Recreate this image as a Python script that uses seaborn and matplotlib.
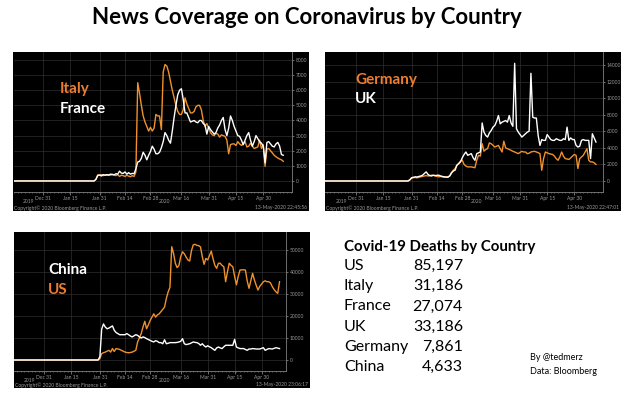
import numpy as np
import pandas as pd
import matplotlib
matplotlib.use("Agg")
import matplotlib.pyplot as plt
import matplotlib.dates as mdates
import matplotlib.transforms as mtransforms
from matplotlib.patches import Rectangle
import seaborn as sns

plt.rcParams['font.family'] = ['Lato', 'DejaVu Sans']

W, H = 630, 396
ORANGE_LINE = '#F0912B'
ORANGE_TXT = '#ED7D31'
GREY = '#9a9a9a'

# ---- daily news story counts ----
zero_from = "2019-12-14"   # flat zero line before the first story

italy_start = "2020-01-24"
italy = [0, 0, 0, 0, 0, 100, 400, 380, 420, 350,
         400, 380, 420, 380, 450, 400, 350, 420, 300, 380,
         350, 300, 380, 320, 280, 350, 300, 600, 6500, 5800,
         5000, 4300, 3900, 3600, 3300, 3550, 3300, 3500, 4400, 4300,
         4300, 3400, 7200, 7700, 7600, 7200, 6600, 6000, 5500, 5000,
         4600, 4400, 4400, 4700, 5500, 5100, 4800, 4500, 4500, 4600,
         4900, 5000, 5000, 4700, 4000, 3600, 3800, 3500, 3200, 3050,
         3000, 3150, 3100, 2900, 3050, 3000, 2950, 2700, 1800, 2400,
         2450, 2450, 2350, 2600, 2450, 2350, 2450, 2600, 2250, 2300,
         2500, 2300, 2150, 2200, 2250, 2700, 2150, 2400, 970, 2100,
         2150, 2000, 1850, 1700, 1600, 1520, 1450, 1400, 1300]
france_start = "2020-01-24"
france = [0, 0, 0, 0, 0, 100, 350, 400, 330, 420,
          380, 420, 380, 450, 420, 400, 480, 450, 650, 520,
          500, 600, 450, 550, 450, 500, 480, 800, 1250, 1300,
          1500, 1900, 1700, 1400, 1700, 1950, 2300, 2100, 1800, 1800,
          1900, 2200, 2600, 3200, 3000, 2700, 2500, 3300, 4200, 5000,
          5700, 6000, 6100, 5400, 4500, 4500, 4200, 3900, 3950, 4000,
          3900, 3850, 4000, 4000, 3800, 3700, 3100, 3600, 3400, 3250,
          3100, 3200, 3500, 3700, 4000, 4200, 3400, 3000, 3500, 4300,
          4000, 3600, 3300, 3000, 2950, 2700, 2400, 2700, 3000, 3200,
          2700, 2300, 2600, 3000, 2800, 2600, 2500, 2300, 1200, 2550,
          2600, 2450, 2300, 2250, 2450, 2550, 2300, 1750, 1700]

germany_start = "2020-01-25"
germany = [0, 0, 0, 0, 0, 150, 350, 400, 420, 380,
           450, 500, 550, 600, 650, 600, 650, 700, 680, 600,
           550, 500, 550, 500, 450, 480, 520, 600, 900, 1300,
           1500, 1900, 2100, 2400, 2500, 2000, 1800, 1700, 1700, 1700,
           1650, 1600, 2500, 3100, 3000, 4500, 3600, 3800, 3900, 4600,
           4500, 4300, 4100, 4200, 4300, 3900, 3500, 4800, 4000, 3900,
           3800, 3700, 3580, 3500, 3400, 3300, 3450, 3580, 3500, 3500,
           3300, 3350, 3500, 3550, 3580, 3500, 3420, 3300, 1290, 2700,
           3500, 3400, 3300, 3250, 3200, 3000, 2700, 2500, 2900, 3500,
           3000, 2700, 2650, 2600, 2780, 3000, 3200, 3100, 1500, 2700,
           2900, 3100, 3500, 3900, 2500, 2300, 2300, 2200, 2000]
uk_start = "2020-01-25"
uk = [0, 0, 0, 0, 0, 150, 400, 450, 500, 480,
      550, 600, 700, 900, 1100, 800, 650, 600, 700, 650,
      680, 700, 600, 550, 500, 480, 440, 600, 1000, 1200,
      1300, 1900, 2100, 2300, 2800, 3200, 3500, 3100, 3200, 3300,
      2800, 2500, 3300, 3400, 3500, 7000, 5900, 5500, 5300, 5800,
      6100, 6500, 6700, 7200, 7900, 6900, 7100, 7200, 7300, 7100,
      7900, 7000, 6600, 14200, 6300, 5900, 5600, 5300, 5500, 5700,
      5900, 6000, 13000, 7700, 7600, 7600, 5500, 4300, 5000, 4900,
      4900, 5600, 5300, 5000, 4900, 4900, 5100, 5000, 4900, 4900,
      5100, 5000, 6500, 4900, 5200, 5000, 5000, 4300, 4100, 4200,
      4900, 5000, 4900, 4900, 4900, 2700, 5700, 5200, 4700]

china_start = "2020-01-25"
china = [0, 0, 0, 0, 0, 0, 1500, 14000, 16400, 15000,
         14200, 14500, 15000, 15500, 13500, 12500, 12000, 11500, 11500, 11500,
         11500, 12000, 11500, 10900, 10500, 11000, 11500, 11200, 10500, 10000,
         10500, 10200, 9700, 9300, 8900, 8500, 8200, 8800, 8500, 7900,
         7900, 7400, 9200, 7400, 7600, 7900, 7900, 7900, 7900, 8000,
         8200, 8500, 9700, 7400, 7000, 7200, 7400, 7800, 8200, 8000,
         7900, 7500, 6700, 7400, 6500, 5900, 6500, 6000, 5600, 5000,
         4400, 5500, 5900, 5500, 5200, 6000, 6700, 6700, 6700, 6700,
         6700, 9400, 5900, 5500, 5200, 5200, 5200, 4800, 4400, 5000,
         5000, 5200, 5100, 5000, 5000, 5000, 5300, 5600, 4400, 4800,
         5200, 5100, 5000, 5300, 5600, 5400, 5200]
us_start = "2020-01-25"
us = [0, 0, 0, 0, 0, 0, 600, 2900, 3300, 3600,
      4000, 4400, 3600, 5200, 3900, 5200, 5000, 4800, 4400, 4000,
      3600, 3400, 3300, 3400, 3600, 4000, 4400, 8200, 10000, 12000,
      15000, 17600, 14200, 16000, 18000, 19500, 21000, 19500, 20500, 21000,
      22000, 23000, 24100, 28000, 31000, 33000, 51500, 48500, 44000, 42000,
      43000, 47000, 49200, 48300, 46800, 45500, 45000, 49800, 52400, 52600,
      52100, 52000, 51400, 47000, 43500, 46200, 45500, 47500, 49500, 46000,
      43000, 41700, 44000, 44000, 43000, 42400, 35600, 40000, 44000, 43000,
      42400, 38000, 34200, 38000, 40900, 41000, 41000, 40900, 36000, 32600,
      36000, 39400, 36400, 34000, 31800, 33500, 34500, 35600, 36000, 35600,
      35600, 35000, 33300, 32000, 31000, 30300, 35600]

tick_days = ["2019-12-31", "2020-01-15", "2020-01-31", "2020-02-14", "2020-02-28",
             "2020-03-16", "2020-03-31", "2020-04-15", "2020-04-30"]
tick_labels = ["Dec 31", "Jan 15", "Jan 31", "Feb 14", "Feb 28",
               "Mar 16", "Mar 31", "Apr 15", "Apr 30"]

death_countries = ["US", "Italy", "France", "UK", "Germany", "China"]
death_counts = [85197, 31186, 27074, 33186, 7861, 4633]


def fbox(l, t, r, b):
    # pixel box (top-left origin) -> figure fraction rect
    return [l / W, 1 - b / H, (r - l) / W, (b - t) / H]


def make_df(start, vals):
    dates = [pd.Timestamp(zero_from)] + list(pd.date_range(start, periods=len(vals), freq="D"))
    return pd.DataFrame({"date": dates, "n": [0] + list(vals)})


base = pd.Timestamp("2019-12-31")
panels = [
    dict(black=(13, 52, 309, 211), box=(14, 52, 292, 192), days=(-16, 136.8),
         ylim=(-730, 8530), yticks=np.arange(0, 8001, 1000),
         lines=[(italy_start, italy, ORANGE_LINE), (france_start, france, "white")],
         names=[("Italy", ORANGE_TXT, 89), ("France", "white", 109)], name_x=60,
         stamp="13-May-2020 22:45:56"),
    dict(black=(325, 52, 621, 211), box=(325, 52, 603, 192), days=(-17, 136.9),
         ylim=(-1330, 15570), yticks=np.arange(0, 14001, 2000),
         lines=[(germany_start, germany, ORANGE_LINE), (uk_start, uk, "white")],
         names=[("Germany", ORANGE_TXT, 80), ("UK", "white", 99)], name_x=355,
         stamp="13-May-2020 22:47:01"),
    dict(black=(14, 232, 310, 388), box=(14, 232, 286, 371), days=(-16.8, 134.6),
         ylim=(-5000, 58200), yticks=np.arange(0, 50001, 10000),
         lines=[(us_start, us, ORANGE_LINE), (china_start, china, "white")],
         names=[("China", "white", 270), ("US", ORANGE_TXT, 290)], name_x=48,
         stamp="13-May-2020 23:06:17"),
]

fig = plt.figure(figsize=(W / 100, H / 100), dpi=100)
fig.patch.set_facecolor("white")

fig.text(307 / W, 1 - 18 / H, "News Coverage on Coronavirus by Country",
         ha="center", va="center", fontsize=16, fontweight="bold", color="black")

for p in panels:
    l, t, r, b = p["black"]
    fig.add_artist(Rectangle((l / W, 1 - b / H), (r - l) / W, (b - t) / H,
                             transform=fig.transFigure, facecolor="black",
                             edgecolor="none", zorder=-1))
    ax = fig.add_axes(fbox(*p["box"]))
    ax.set_facecolor("black")

    for start, vals, col in p["lines"]:
        sns.lineplot(data=make_df(start, vals), x="date", y="n", ax=ax,
                     color=col, lw=1.0)

    ax.set_xlim(base + pd.Timedelta(days=p["days"][0]), base + pd.Timedelta(days=p["days"][1]))
    ax.set_ylim(*p["ylim"])
    ax.set_xlabel("")
    ax.set_ylabel("")

    ax.set_xticks(pd.to_datetime(tick_days))
    ax.set_xticklabels(tick_labels)
    ax.xaxis.set_minor_locator(mdates.DayLocator(interval=2))
    ax.set_yticks(p["yticks"])
    ax.set_yticklabels([str(v) for v in p["yticks"]])
    ax.yaxis.tick_right()

    ax.tick_params(axis="x", which="major", length=2, width=0.5, color=GREY,
                   labelsize=3.6, labelcolor=GREY, pad=0.6)
    ax.tick_params(axis="x", which="minor", length=1, width=0.4, color=GREY)
    ax.tick_params(axis="y", length=1.5, width=0.5, color=GREY,
                   labelsize=3.6, labelcolor=GREY, pad=1)
    ax.grid(True, which="major", color="#2e2e2e", lw=0.5)
    ax.set_axisbelow(True)
    for side in ["top", "left"]:
        ax.spines[side].set_visible(False)
    for side in ["right", "bottom"]:
        ax.spines[side].set_color("#808080")
        ax.spines[side].set_linewidth(0.6)

    # year row under the date labels
    ab = p["box"][3]
    tr = mtransforms.blended_transform_factory(ax.transData, fig.transFigure)
    ax.text(mdates.date2num(pd.Timestamp("2019-12-23")), 1 - (ab + 10) / H, "2019",
            transform=tr, ha="center", va="center", fontsize=3.6, color=GREY)
    ax.text(mdates.date2num(pd.Timestamp("2020-03-07")), 1 - (ab + 10) / H, "2020",
            transform=tr, ha="center", va="center", fontsize=3.6, color=GREY)

    fig.text((l + 1) / W, 1 - (b - 3.2) / H, "Copyright\u00a9 2020 Bloomberg Finance L.P.",
             ha="left", va="center", fontsize=3.6, color=GREY)
    fig.text((r - 2) / W, 1 - (b - 3.2) / H, p["stamp"],
             ha="right", va="center", fontsize=3.6, color=GREY)

    for name, col, yc in p["names"]:
        fig.text(p["name_x"] / W, 1 - yc / H, name, ha="left", va="center",
                 fontsize=11, fontweight="bold", color=col)

# deaths table on the right
fig.text(344 / W, 1 - 247 / H, "Covid-19 Deaths by Country", ha="left", va="center",
         fontsize=10.8, fontweight="bold", color="black")
for i, (name, cnt) in enumerate(zip(death_countries, death_counts)):
    yc = 266 + i * 20.2
    fig.text(344 / W, 1 - yc / H, name, ha="left", va="center", fontsize=11.5, color="black")
    fig.text(463 / W, 1 - yc / H, f"{cnt:,}", ha="right", va="center", fontsize=11.5, color="black")

fig.text(530 / W, 1 - 357 / H, "By @tedmerz", ha="left", va="center", fontsize=6.5, color="black")
fig.text(530 / W, 1 - 371 / H, "Data: Bloomberg", ha="left", va="center", fontsize=6.5, color="black")

plt.savefig("out.png", dpi=100, facecolor="white")
plt.close()
